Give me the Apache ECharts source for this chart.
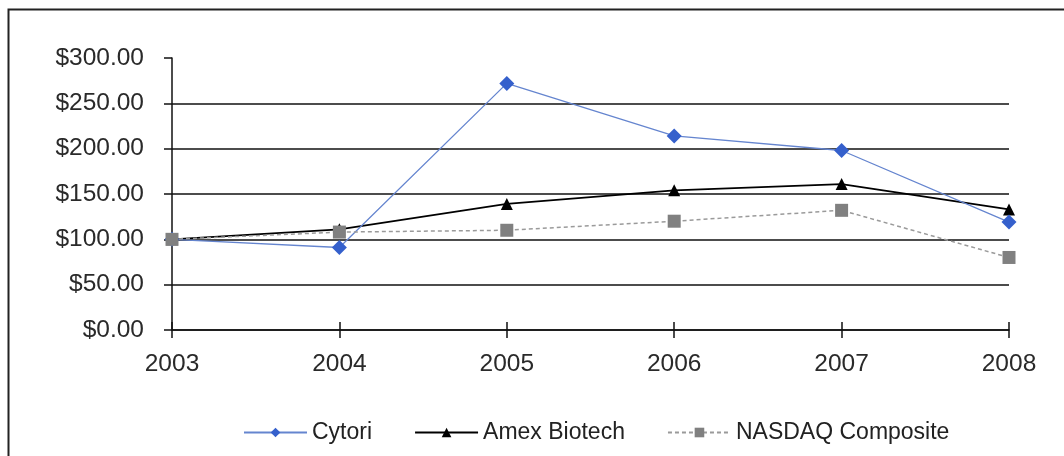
<!DOCTYPE html>
<html>
<head>
<meta charset="utf-8">
<script src="https://cdn.jsdelivr.net/npm/echarts@6/dist/echarts.min.js"></script>
<style>
  html, body { margin: 0; padding: 0; background: #fff; }
  #main { width: 1064px; height: 456px; }
</style>
</head>
<body>
<div id="main"></div>
<script>
var years = ["2003", "2004", "2005", "2006", "2007", "2008"];
var cytori = [100, 91, 272, 214, 198, 119];
var amexBiotech = [100, 111, 139, 154, 161, 133];
var nasdaq = [100, 108, 110, 120, 132, 80];

var fontFamily = "'Liberation Sans', Arial, sans-serif";
var myChart = echarts.init(document.getElementById("main"));

var option = {
  backgroundColor: "#fff",
  animation: false,
  graphic: [
    {
      type: "rect",
      shape: { x: 8.5, y: 9.5, width: 1100, height: 500 },
      style: { fill: "none", stroke: "#222", lineWidth: 2 },
      silent: true
    }
  ],
  grid: { left: 172, right: 55, top: 58, bottom: 126 },
  legend: {
    top: 416,
    left: 238,
    itemWidth: 63,
    itemHeight: 12,
    itemGap: 42,
    textStyle: { fontFamily: fontFamily, fontSize: 23, color: "#222" },
    data: ["Cytori", "Amex Biotech", "NASDAQ Composite"]
  },
  xAxis: [
    {
      type: "category",
      data: years,
      boundaryGap: false,
      axisLine: { lineStyle: { color: "#111", width: 1.5 } },
      axisTick: { alignWithLabel: true, length: 8, lineStyle: { color: "#111", width: 1.5 } },
      axisLabel: { margin: 22, fontFamily: fontFamily, fontSize: 24.5, color: "#2a2a2a" },
      splitLine: { show: false }
    },
    {
      type: "category",
      data: years,
      boundaryGap: false,
      position: "bottom",
      axisLine: { show: false },
      axisTick: { inside: true, length: 8, lineStyle: { color: "#111", width: 1.5 } },
      axisLabel: { show: false },
      splitLine: { show: false }
    }
  ],
  yAxis: {
    type: "value",
    min: 0,
    max: 300,
    interval: 50,
    axisLine: { show: true, lineStyle: { color: "#111", width: 1.5 } },
    axisTick: { show: true, length: 8, lineStyle: { color: "#111", width: 1.5 } },
    axisLabel: {
      margin: 28,
      fontFamily: fontFamily,
      fontSize: 24.5,
      color: "#2a2a2a",
      formatter: function (v) { return "$" + v.toFixed(2); }
    },
    splitLine: {
      show: true,
      lineStyle: {
        color: ["#111", "#111", "#111", "#111", "#111", "#111", "rgba(0,0,0,0)"],
        width: 1.5
      }
    }
  },
  series: [
    {
      name: "Cytori",
      type: "line",
      data: cytori,
      symbol: "diamond",
      symbolSize: 15,
      lineStyle: { color: "#6585cf", width: 1.3 },
      itemStyle: { color: "#3560cc" },
      z: 4
    },
    {
      name: "Amex Biotech",
      type: "line",
      data: amexBiotech,
      symbol: "triangle",
      symbolSize: 12,
      lineStyle: { color: "#000", width: 1.8 },
      itemStyle: { color: "#000" },
      z: 3
    },
    {
      name: "NASDAQ Composite",
      type: "line",
      data: nasdaq,
      symbol: "rect",
      symbolSize: 13,
      lineStyle: { color: "#9a9a9a", width: 1.5, type: [4, 3] },
      itemStyle: { color: "#808080" },
      z: 5
    }
  ]
};

option && myChart.setOption(option);
</script>
</body>
</html>
